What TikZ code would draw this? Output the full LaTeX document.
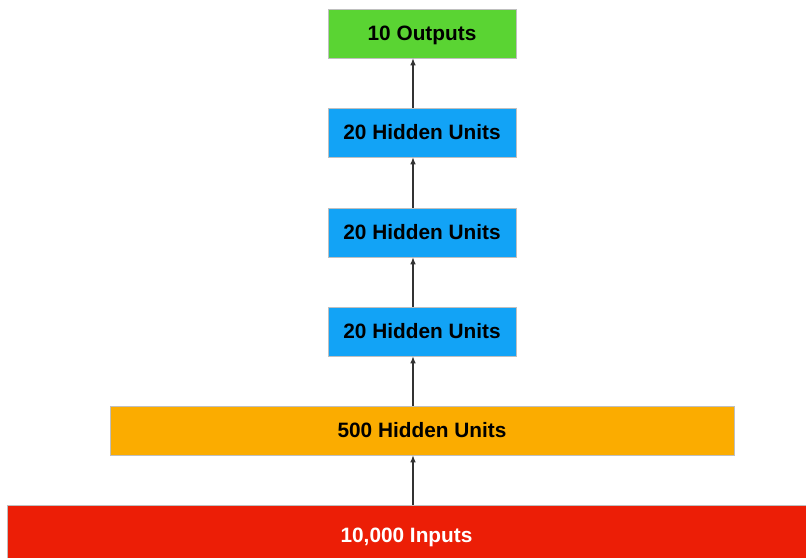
\documentclass[tikz,border=0pt]{standalone}
\usepackage{fontspec}
\setmainfont{Liberation Sans}
\usepackage{xcolor}
\usepackage{tikz}
\usetikzlibrary{arrows.meta}
\definecolor{outgreen}{HTML}{5AD433}
\definecolor{hidblue}{HTML}{12A3F6}
\definecolor{bigorange}{HTML}{FBAC00}
\definecolor{inred}{HTML}{EC1E06}

\begin{document}
\begin{tikzpicture}[
  layer/.style={draw=black!25, line width=0.4pt, minimum height=1.225cm,
    inner sep=0pt, text height=10.6pt, text depth=0pt,
    font=\fontsize{14.8}{18}\selectfont\bfseries},
  feed/.style={draw=black!80, line width=0.8pt, -{Latex[length=5pt,width=4pt]}}
]
  \useasboundingbox (0,0) rectangle (20.15,13.95);
  % Nodes
  \node[layer, fill=inred, text=white, minimum width=19.975cm, minimum height=1.5cm] (inp) at (10.1625,0.575) {10,000 Inputs};
  \node[layer, fill=bigorange, minimum width=15.6cm] (big) at (10.55,3.1875) {500 Hidden Units};
  \foreach \i/\y in {1/5.6625,2/8.1375,3/10.6375} {
    \node[layer, fill=hidblue, minimum width=4.7cm] (h\i) at (10.55,\y) {20 Hidden Units};
  }
  \node[layer, fill=outgreen, minimum width=4.7cm] (out) at (10.55,13.1125) {10 Outputs};
  % Connections
  \coordinate (ax) at (10.325,0);
  \draw[feed] (inp.north -| ax) -- (big.south -| ax);
  \draw[feed] (big.north -| ax) -- (h1.south -| ax);
  \draw[feed] (h1.north -| ax) -- (h2.south -| ax);
  \draw[feed] (h2.north -| ax) -- (h3.south -| ax);
  \draw[feed] (h3.north -| ax) -- (out.south -| ax);
\end{tikzpicture}
\end{document}
